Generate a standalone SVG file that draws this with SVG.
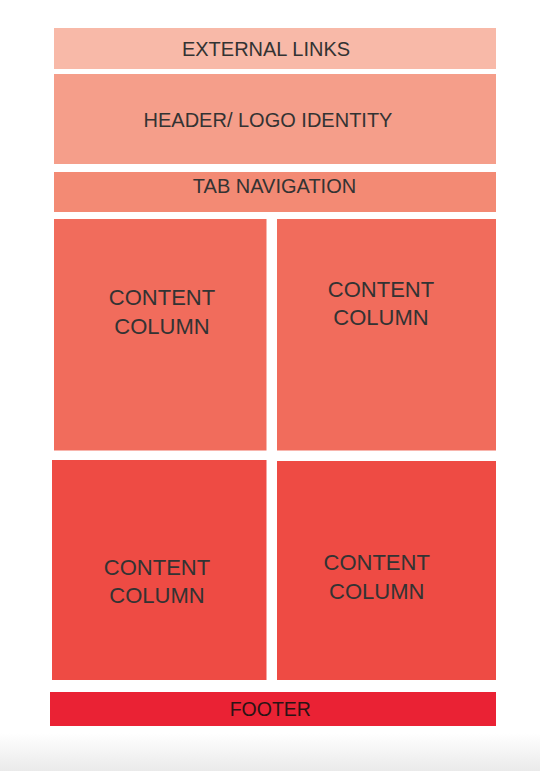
<svg xmlns="http://www.w3.org/2000/svg" width="540" height="771" viewBox="0 0 540 771">
<defs>
<linearGradient id="bg" x1="0" y1="0" x2="0" y2="1">
<stop offset="0" stop-color="#ffffff"/>
<stop offset="1" stop-color="#eaeaea"/>
</linearGradient>
<style>
text{font-family:"Liberation Sans",Arial,Helvetica,sans-serif;fill:#333333;text-anchor:middle}
.t20{font-size:20px}
.t22{font-size:22px}
</style>
</defs>
<rect x="0" y="0" width="540" height="771" fill="#ffffff"/>
<rect x="0" y="733" width="540" height="38" fill="url(#bg)"/>
<g id="external-links">
<rect x="54" y="28" width="442" height="41" fill="#f8b9a8"/>
<text class="t20" x="266" y="55.5">EXTERNAL LINKS</text>
</g>
<g id="header">
<rect x="54" y="74" width="442" height="90" fill="#f59e8a"/>
<text class="t20" x="268" y="127">HEADER/ LOGO IDENTITY</text>
</g>
<g id="tab-navigation">
<rect x="54" y="172" width="442" height="40" fill="#f38a74"/>
<text class="t20" x="274.5" y="193">TAB NAVIGATION</text>
</g>
<g id="content-top-left">
<rect x="54" y="219" width="212.5" height="231.5" fill="#f16c5c"/>
<text class="t22" x="162" y="305">CONTENT</text>
<text class="t22" x="162" y="333.5">COLUMN</text>
</g>
<g id="content-top-right">
<rect x="277" y="219" width="219" height="231.5" fill="#f16c5c"/>
<text class="t22" x="381" y="296.5">CONTENT</text>
<text class="t22" x="381" y="325">COLUMN</text>
</g>
<g id="content-bottom-left">
<rect x="52" y="460" width="214.5" height="220" fill="#ee4b44"/>
<text class="t22" x="157" y="574.5">CONTENT</text>
<text class="t22" x="157" y="603">COLUMN</text>
</g>
<g id="content-bottom-right">
<rect x="277" y="461" width="219" height="219" fill="#ee4b44"/>
<text class="t22" x="376.7" y="570">CONTENT</text>
<text class="t22" x="376.7" y="598.5">COLUMN</text>
</g>
<g id="footer">
<rect x="50" y="692" width="446" height="34" fill="#ea2234"/>
<text class="t20" x="270.3" y="715.5" style="fill:#2a1414;font-size:19.5px">FOOTER</text>
</g>
<g id="connectors"/>
</svg>
